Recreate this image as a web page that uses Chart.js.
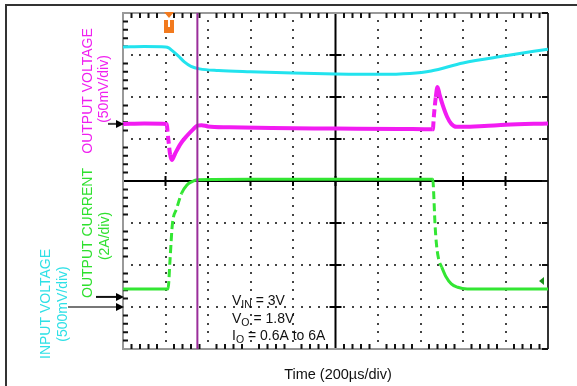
<!DOCTYPE html>
<html>
<head>
<meta charset="utf-8">
<script src="https://cdn.jsdelivr.net/npm/chart.js@4/dist/chart.umd.min.js"></script>
<style>
html,body{margin:0;padding:0;background:#fff;}
#wrap{position:relative;width:577px;height:386px;}
canvas{display:block;}
</style>
</head>
<body>
<div id="wrap"><canvas id="c" width="577" height="386"></canvas></div>
<script>
// Time axis: microseconds (200 µs/div, 10 div). Vertical axis: screen divisions (8 div).
const xTicksUs = [0,200,400,600,800,1000,1200,1400,1600,1800,2000];
const yTicksDiv = [0,1,2,3,4,5,6,7,8];

// Input voltage (cyan, 500mV/div)
const inputVoltageT   = [0,100,200,215,230,260,290,320,360,450,600,800,1000,1200,1350,1450,1600,1800,2000];
const inputVoltageDiv = [7.19,7.20,7.19,7.17,7.11,6.98,6.83,6.73,6.67,6.63,6.60,6.57,6.55,6.54,6.56,6.62,6.81,6.98,7.14];

// Output voltage (magenta, 50mV/div)
const outputVoltageT   = [0,100,205,212,222,230,245,270,300,330,350,370,400,500,700,1000,1300,1458,1463,1472,1480,1490,1505,1525,1545,1570,1600,1700,1800,2000];
const outputVoltageDiv = [5.36,5.37,5.36,5.05,4.62,4.50,4.65,4.88,5.07,5.23,5.32,5.33,5.30,5.28,5.26,5.25,5.24,5.23,5.55,6.00,6.24,6.05,5.80,5.53,5.36,5.29,5.29,5.31,5.34,5.37];

// Output current (green, 2A/div)
const outputCurrentT   = [0,100,212,221,232,253,276,300,323,350,600,1000,1300,1458,1463,1468,1475,1485,1500,1520,1545,1575,1620,1800,2000];
const outputCurrentDiv = [1.43,1.43,1.43,2.10,2.95,3.35,3.71,3.90,3.98,4.03,4.04,4.04,4.04,4.04,3.60,3.00,2.50,2.15,1.95,1.72,1.55,1.47,1.43,1.43,1.43];

// Cursor (purple vertical marker)
const cursorT = 350;

const zip = (xs, ys) => xs.map((x, i) => ({x, y: ys[i]}));
const FONT = '"Liberation Sans", Arial, sans-serif';

const steepDash = limit => ctx => {
  const dx = Math.abs(ctx.p1.x - ctx.p0.x), dy = Math.abs(ctx.p1.y - ctx.p0.y);
  return dy > limit * dx ? [8, 4] : undefined;
};

const scopePlugin = {
  id: 'scope',
  beforeDatasetsDraw(chart) {
    const {ctx, chartArea: a, scales: {x, y}} = chart;
    ctx.save();
    // outer frame
    ctx.strokeStyle = '#333'; ctx.lineWidth = 2;
    ctx.strokeRect(6, 5, 640, 460);
    // dotted grid
    ctx.fillStyle = '#444';
    for (let k = 1; k < 8; k++) {
      if (k === 4) continue;
      const py = Math.round(y.getPixelForValue(k));
      for (let t = 0; t <= 2000; t += 40) {
        const px = x.getPixelForValue(t);
        ctx.fillRect(Math.round(px) - 1, py - 1, 2, 2);
      }
    }
    for (let k = 1; k < 10; k++) {
      if (k === 5) continue;
      const px = Math.round(x.getPixelForValue(k * 200));
      for (let d = 0; d <= 8.001; d += 0.2) {
        const py = y.getPixelForValue(d);
        ctx.fillRect(px - 1, Math.round(py) - 1, 2, 2);
      }
    }
    // centre lines
    ctx.strokeStyle = '#000'; ctx.lineWidth = 2;
    const cx = x.getPixelForValue(1000), cy = y.getPixelForValue(4);
    ctx.beginPath();
    ctx.moveTo(cx, a.top); ctx.lineTo(cx, a.bottom);
    ctx.moveTo(a.left, cy); ctx.lineTo(a.right, cy);
    ctx.stroke();
    ctx.beginPath();
    yTicksDiv.forEach(d => { const py = y.getPixelForValue(d); ctx.moveTo(cx - 6, py); ctx.lineTo(cx + 6, py); });
    xTicksUs.forEach(t => { const px = x.getPixelForValue(t); ctx.moveTo(px, cy - 5); ctx.lineTo(px, cy + 5); });
    ctx.stroke();
    // border
    ctx.strokeStyle = '#999'; ctx.lineWidth = 2;
    ctx.beginPath();
    ctx.moveTo(a.right, a.top); ctx.lineTo(a.left, a.top); ctx.lineTo(a.left, a.bottom); ctx.lineTo(a.right, a.bottom);
    ctx.stroke();
    ctx.strokeStyle = '#333';
    ctx.beginPath(); ctx.moveTo(a.right, a.top); ctx.lineTo(a.right, a.bottom); ctx.stroke();
    // edge ticks
    ctx.strokeStyle = '#111'; ctx.lineWidth = 2;
    ctx.beginPath();
    for (let t = 40; t < 2000; t += 40) {
      if (t % 200 === 0) continue;
      const px = x.getPixelForValue(t);
      ctx.moveTo(px, a.top); ctx.lineTo(px, a.top + 5);
      ctx.moveTo(px, a.bottom); ctx.lineTo(px, a.bottom - 5);
    }
    for (let i = 1; i < 40; i++) {
      if (i % 5 === 0) continue;
      const py = y.getPixelForValue(i * 0.2);
      ctx.moveTo(a.left, py); ctx.lineTo(a.left + 5, py);
    }
    yTicksDiv.forEach(d => { const py = y.getPixelForValue(d); ctx.moveTo(a.right, py); ctx.lineTo(a.right - 6, py); });
    ctx.stroke();
    ctx.restore();
  },
  afterDraw(chart) {
    const {ctx, chartArea: a, scales: {x, y}} = chart;
    ctx.save();
    // trigger marker (orange)
    const tx = Math.round(x.getPixelForValue(215));
    ctx.fillStyle = '#f27a1e';
    ctx.beginPath(); ctx.moveTo(tx - 5, a.top - 1); ctx.lineTo(tx + 5, a.top - 1); ctx.lineTo(tx, a.top + 5); ctx.closePath(); ctx.fill();
    ctx.fillRect(tx - 5, a.top + 7, 4, 13);
    ctx.fillRect(tx + 1, a.top + 7, 4, 13);
    ctx.fillRect(tx - 5, a.top + 14, 10, 6);
    // ground marker (dark green, right)
    const gy = y.getPixelForValue(1.62);
    ctx.fillStyle = '#1b8f1b';
    ctx.beginPath(); ctx.moveTo(a.right - 9, gy); ctx.lineTo(a.right - 4, gy - 4); ctx.lineTo(a.right - 4, gy + 4); ctx.closePath(); ctx.fill();
    // reference arrows
    const arrow = (x0, py, lineColor) => {
      ctx.strokeStyle = lineColor; ctx.lineWidth = 2;
      ctx.beginPath(); ctx.moveTo(x0, py); ctx.lineTo(a.left - 6, py); ctx.stroke();
      ctx.fillStyle = '#000';
      ctx.beginPath(); ctx.moveTo(a.left + 1, py); ctx.lineTo(a.left - 7, py - 4); ctx.lineTo(a.left - 7, py + 4); ctx.closePath(); ctx.fill();
    };
    arrow(108, y.getPixelForValue(5.36), '#444');
    arrow(96, y.getPixelForValue(1.24), '#111');
    arrow(68, y.getPixelForValue(1.0), '#777');
    // rotated labels
    const vtext = (txt, cxp, cyp, color) => {
      ctx.save(); ctx.translate(cxp, cyp); ctx.rotate(-Math.PI / 2);
      ctx.fillStyle = color; ctx.font = '14px ' + FONT;
      ctx.textAlign = 'center'; ctx.textBaseline = 'middle';
      ctx.fillText(txt, 0, 0); ctx.restore();
    };
    vtext('OUTPUT VOLTAGE', 88, 91, '#f020f0');
    vtext('(50mV/div)', 104, 89, '#f020f0');
    vtext('OUTPUT CURRENT', 88, 233, '#2fe02f');
    vtext('(2A/div)', 105, 236, '#2fe02f');
    vtext('INPUT VOLTAGE', 46, 304, '#2ee0e6');
    vtext('(500mV/div)', 63, 304, '#2ee0e6');
    // conditions
    const sub = (main, s, rest, px, py) => {
      ctx.fillStyle = '#111'; ctx.textAlign = 'left'; ctx.textBaseline = 'alphabetic';
      ctx.font = '14px ' + FONT; ctx.fillText(main, px, py);
      let w = ctx.measureText(main).width;
      ctx.font = '10.5px ' + FONT; ctx.fillText(s, px + w, py + 3);
      w += ctx.measureText(s).width;
      ctx.font = '14px ' + FONT; ctx.fillText(rest, px + w, py);
    };
    sub('V', 'IN', ' = 3V', 232, 305);
    sub('V', 'O', ' = 1.8V', 232, 322.5);
    sub('I', 'O', ' = 0.6A to 6A', 232, 340);
    // x title
    ctx.fillStyle = '#111'; ctx.font = '14.5px ' + FONT; ctx.textAlign = 'center';
    ctx.fillText('Time (200\u00b5s/div)', 338, 379);
    ctx.restore();
  }
};

new Chart(document.getElementById('c'), {
  type: 'line',
  data: {
    datasets: [
      {label: 'Cursor', data: [{x: cursorT, y: 0}, {x: cursorT, y: 8}], borderColor: '#9a2e9a', borderWidth: 2, pointRadius: 0},
      {label: 'Input voltage', data: zip(inputVoltageT, inputVoltageDiv), borderColor: '#22e3ee', borderWidth: 3, pointRadius: 0, cubicInterpolationMode: 'monotone'},
      {label: 'Output voltage', data: zip(outputVoltageT, outputVoltageDiv), borderColor: '#f21cf2', borderWidth: 4, pointRadius: 0, cubicInterpolationMode: 'monotone', segment: {borderDash: steepDash(6.5)}},
      {label: 'Output current', data: zip(outputCurrentT, outputCurrentDiv), borderColor: '#33e633', borderWidth: 3, pointRadius: 0, cubicInterpolationMode: 'monotone', segment: {borderDash: steepDash(2.5)}}
    ]
  },
  options: {
    responsive: false,
    animation: false,
    devicePixelRatio: 1,
    layout: {padding: {left: 123, right: 29, top: 13, bottom: 37}},
    plugins: {legend: {display: false}, tooltip: {enabled: false}},
    scales: {
      x: {type: 'linear', min: 0, max: 2000, display: false},
      y: {type: 'linear', min: 0, max: 8, display: false}
    }
  },
  plugins: [scopePlugin]
});
</script>
</body>
</html>
